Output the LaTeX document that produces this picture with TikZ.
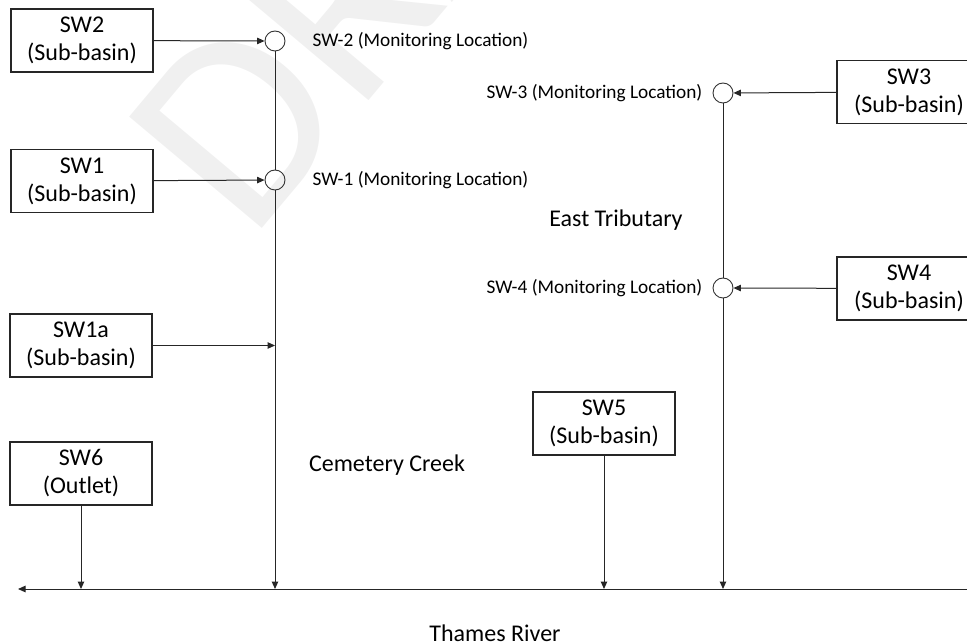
\documentclass[tikz,border=0pt]{standalone}
\usepackage{fontspec}
\setmainfont{Carlito}
\usepackage{tikz}
\usetikzlibrary{arrows.meta, positioning}
\tikzstyle{basin} = [rectangle, minimum width=142pt, minimum height=63pt, inner sep=0pt, align=center, draw=black!85, line width=1.1pt, font=\fontsize{24}{28}\selectfont]
\tikzstyle{station} = [circle, minimum size=20pt, inner sep=0pt, draw=black!80, line width=0.9pt]
\tikzstyle{tag} = [inner sep=0pt, font=\fontsize{19.3}{21}\selectfont]
\tikzstyle{stream} = [inner sep=0pt, font=\fontsize{24}{26}\selectfont]
\tikzstyle{flow} = [draw=black!85, line width=1pt, -{Triangle[length=7.5pt, width=6.5pt]}]

\begin{document}
\begin{tikzpicture}[x=1pt, y=-1pt]
\useasboundingbox (0,0) rectangle (967,644);
% watermark
\node [rotate=50, anchor=base west, inner sep=0pt, text=black!6, font=\fontsize{270}{270}\selectfont] at (250,243) {DRAFT};

\node (sw2) [basin] at (82,40.5) {SW2\\(Sub-basin)};
\node (sw1) [basin] at (82,181) {SW1\\(Sub-basin)};
\node (sw1a) [basin] at (81,345.5) {SW1a\\(Sub-basin)};
\node (sw6) [basin] at (81,473.5) {SW6\\(Outlet)};
\node (sw5) [basin] at (604,423.5) {SW5\\(Sub-basin)};
\node (sw3) [basin, minimum width=144pt] at (909,92) {SW3\\(Sub-basin)};
\node (sw4) [basin, minimum width=144pt] at (909,288.5) {SW4\\(Sub-basin)};

\node (m2) [station] at (275,41) {};
\node (m1) [station] at (275,180) {};
\node (m3) [station] at (723,93) {};
\node (m4) [station] at (723,288) {};

\node (t2) [tag, right=27pt of m2] {SW-2 (Monitoring Location)};
\node (t1) [tag, right=27pt of m1] {SW-1 (Monitoring Location)};
\node (t3) [tag, left=10pt of m3] {SW-3 (Monitoring Location)};
\node (t4) [tag, left=10pt of m4] {SW-4 (Monitoring Location)};

\node (east) [stream] at (616,220) {East Tributary};
\node (creek) [stream] at (387,465) {Cemetery Creek};
\node (thames) [stream] at (495,633) {Thames River};

\coordinate (rW) at (18,589);
\coordinate (rE) at (967,589);

% inflows
\draw[flow] (sw2) -- (m2);
\draw[flow] (sw1) -- (m1);
\draw[flow] (sw1a.east) -- (sw1a.east -| m1.south);
\draw[flow] (sw3) -- (m3);
\draw[flow] (sw4) -- (m4);
\draw[draw=black!85, line width=1pt] (m2) -- (m1);
\draw[draw=black!85, line width=1pt] (m3) -- (m4);

% down to the river
\draw[flow] (m1) -- (m1 |- rE);
\draw[flow] (m4) -- (m4 |- rE);
\draw[flow] (sw6) -- (sw6 |- rE);
\draw[flow] (sw5) -- (sw5 |- rE);
\draw[flow] (rE) -- (rW);
\end{tikzpicture}
\end{document}
